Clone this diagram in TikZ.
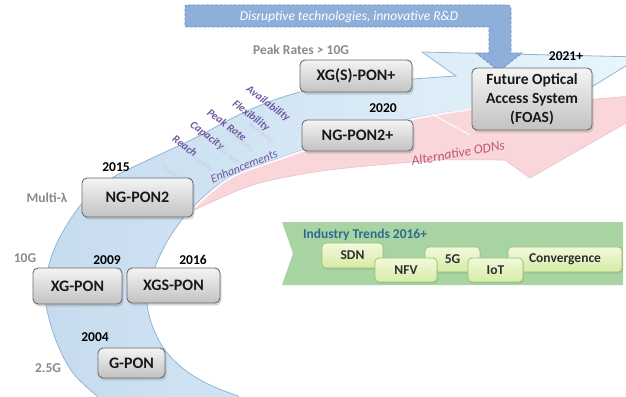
\documentclass[tikz,border=0pt]{standalone}
\usepackage{fontspec}
\setmainfont{Carlito}
\usetikzlibrary{shadows}
\definecolor{bandA}{HTML}{C6DBEE}
\definecolor{bandB}{HTML}{E8F6FD}
\definecolor{bandLine}{HTML}{94B4D4}
\definecolor{pinkFill}{HTML}{F8D6DA}
\definecolor{pinkLine}{HTML}{EBBFC5}
\definecolor{rdFill}{HTML}{8FAFDB}
\definecolor{rdLine}{HTML}{6F90C0}
\definecolor{ponTop}{HTML}{F4F4F4}
\definecolor{ponBot}{HTML}{C2C2C2}
\definecolor{ponLine}{HTML}{6A6A6A}
\definecolor{rateGrey}{HTML}{8A8A8A}
\definecolor{enhPurple}{HTML}{6E5A9E}
\definecolor{ghostGrey}{HTML}{C9CDD6}
\definecolor{odnRed}{HTML}{C4556D}
\definecolor{bannerGreen}{HTML}{A8D4A3}
\definecolor{trendTitle}{HTML}{2E6C8E}
\definecolor{trendTop}{HTML}{F2F9DC}
\definecolor{trendBot}{HTML}{D6EBA6}
\definecolor{trendLine}{HTML}{9BC36C}
\tikzset{
  pon/.style={draw=ponLine, line width=0.9pt, rounded corners=5pt,
    top color=ponTop, bottom color=ponBot, text=black!90,
    drop shadow={shadow xshift=1.5pt, shadow yshift=-2.5pt, opacity=0.3},
    font=\bfseries\fontsize{16}{19}\selectfont, inner sep=0pt, align=center},
  year/.style={font=\bfseries\fontsize{13.5}{15}\selectfont, text=black},
  rate/.style={font=\bfseries\fontsize{13.5}{15}\selectfont, text=rateGrey},
  enh/.style={font=\bfseries\itshape\fontsize{11}{12}\selectfont, text=enhPurple, rotate=-37},
  ghost/.style={font=\itshape\fontsize{6.5}{7}\selectfont, text=ghostGrey, rotate=-37},
  trend/.style={draw=trendLine, line width=0.7pt, rounded corners=4pt,
    top color=trendTop, bottom color=trendBot, text=black!82,
    drop shadow={shadow xshift=1pt, shadow yshift=-1.5pt, opacity=0.22},
    font=\bfseries\fontsize{13.5}{15}\selectfont, inner sep=0pt},
  bluearrow/.style={left color=bandA, right color=bandB, draw=bandLine, line width=0.8pt},
  pinkarrow/.style={fill=pinkFill, draw=pinkLine, line width=0.6pt},
  rdarrow/.style={fill=rdFill, draw=rdLine, line width=0.8pt, dash pattern=on 3pt off 1.5pt}
}
\begin{document}
\begin{tikzpicture}[x=1pt,y=-1pt]
\useasboundingbox (0,0) rectangle (626,396);
\begin{scope}
\clip (0,0) rectangle (626,396);
% alternative ODN arrow (pink, behind)
\path[pinkarrow] plot[smooth, tension=0.6] coordinates {(190,208) (230,170) (300,142) (400,120) (430,113)}
  -- (680,92) -- (530,178) -- (505,160)
  -- plot[smooth, tension=0.6] coordinates {(505,160) (440,160) (413,162) (347,168) (297,175) (247,187) (190,212)}
  -- cycle;
% main evolution arrow (blue band)
\path[bluearrow] (97,400)
  -- plot[smooth, tension=0.6] coordinates {(97,396) (73,373) (57,343) (47,310) (45,285) (52,255) (65,228) (85,200) (112,178) (148,160) (193,139) (247,111) (293,94) (340,85) (413,79) (456,76)}
  -- (422,52) -- (640,57) -- (545,116) -- (490,106)
  -- plot[smooth, tension=0.6] coordinates {(490,106) (413,118) (360,133) (303,150) (280,158) (230,177) (193,207) (168,240) (152,275) (147,300) (152,325) (165,350) (185,370) (210,385) (238,396)}
  -- (240,400) -- cycle;
% light edge between the two arrows
\draw[white, line width=2pt, opacity=0.85, line cap=round]
  plot[smooth, tension=0.6] coordinates {(472,109) (413,119) (360,134) (303,151) (280,159) (230,178) (195,207)};
\draw[white, line width=1.2pt, opacity=0.8] (433,115) -- (470,135);
\end{scope}

% enhancement keywords
\node[enh] (avail) at (268,104) {Availability};
\node[enh] (flex)  at (251,116) {Flexibility};
\node[enh] (peakr) at (227,125) {Peak Rate};
\node[enh] (capa)  at (207,136) {Capacity};
\node[enh] (reach) at (185,146) {Reach};
\node[ghost] (gavail) at (261,133) {Availability};
\node[ghost] (gflex)  at (243,143) {Flexibility};
\node[ghost] (gpeak)  at (228,155) {Peak Rate};
\node[ghost] (gcapa)  at (203,164) {Capacity};
\node[ghost] (greach) at (170,172) {Reach};
\node[font=\itshape\fontsize{12}{13}\selectfont, text=enhPurple, rotate=22] (enhance) at (244,166) {Enhancements};
\node[font=\itshape\fontsize{13.5}{15}\selectfont, text=odnRed, rotate=10] (altodn) at (458,153) {Alternative ODNs};

% disruptive R&D feed into the future system
\path[rdarrow] (188,5) -- (503,5) .. controls (511,5) .. (511,13) -- (511,53) -- (522,53)
  -- (499,71) -- (476,53) -- (489,53) -- (489,27) -- (188,27) .. controls (185,27) .. (185,24)
  -- (185,8) .. controls (185,5) .. (188,5) -- cycle;
\node[font=\itshape\fontsize{13.5}{15}\selectfont, text=white] (rd) at (349,16.5) {Disruptive technologies, innovative R\&D};

% industry trends banner
\path[fill=bannerGreen] (282,222) -- (623,222) -- (623,285) -- (282,285) -- (293,253.5) -- cycle;
\node[font=\bfseries\fontsize{13.5}{15}\selectfont, text=trendTitle] (trends) at (365,235) {Industry Trends 2016+};
\node[trend, minimum width=61pt, minimum height=25pt] (sdn) at (352.5,255.5) {SDN};
\node[trend, minimum width=55pt, minimum height=25pt] (fiveg) at (452.5,259.5) {5G};
\node[trend, minimum width=114pt, minimum height=25pt] (conv) at (565,259.5) {Convergence};
\node[trend, minimum width=62pt, minimum height=24pt] (nfv) at (406,270) {NFV};
\node[trend, minimum width=55pt, minimum height=24pt] (iot) at (495.5,270) {IoT};

% technology generations
\node[pon, minimum width=112pt, minimum height=32pt] (xgsp) at (356,76) {XG(S)-PON+};
\node[pon, minimum width=111pt, minimum height=31pt] (ngp2p) at (357.5,135.5) {NG-PON2+};
\node[pon, minimum width=120pt, minimum height=62pt, font=\bfseries\fontsize{15.5}{19}\selectfont] (foas) at (532,99) {Future Optical\\Access System\\(FOAS)};
\node[pon, minimum width=111pt, minimum height=39pt] (ngpon2) at (137.5,197.5) {NG-PON2};
\node[pon, minimum width=89pt, minimum height=36pt] (xgpon) at (77.5,286) {XG-PON};
\node[pon, minimum width=93pt, minimum height=35pt] (xgspon) at (173.5,285.5) {XGS-PON};
\node[pon, minimum width=67pt, minimum height=30pt] (gpon) at (131.5,363) {G-PON};

% years
\node[year] (y2021) at (566,56) {2021+};
\node[year] (y2020) at (383,108) {2020};
\node[year] (y2015) at (116,167) {2015};
\node[year] (y2009) at (107,260) {2009};
\node[year] (y2016) at (193,260) {2016};
\node[year] (y2004) at (95,337) {2004};

% rates
\node[rate] (peak) at (301,50) {Peak Rates > 10G};
\node[rate] (multi) at (47,198) {Multi-λ};
\node[rate] (r10g) at (25,258) {10G};
\node[rate] (r25g) at (48,368) {2.5G};
\end{tikzpicture}
\end{document}
